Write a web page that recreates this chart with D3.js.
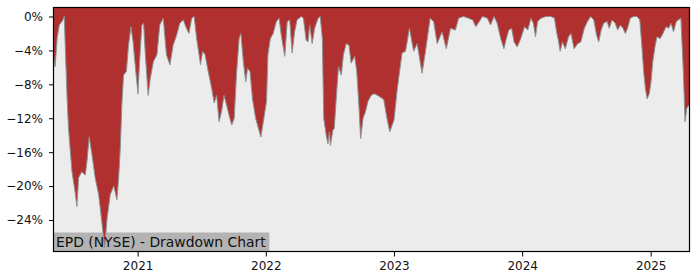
<!DOCTYPE html>
<html>
<head>
<meta charset="utf-8">
<script src="https://cdn.jsdelivr.net/npm/d3@7"></script>
<style>
  html, body { margin: 0; padding: 0; background: #ffffff; }
  svg { display: block; }
  text { font-family: "DejaVu Sans", sans-serif; }
</style>
</head>
<body>
<script>
const dates = [
"2020-05-05","2020-05-11","2020-05-17","2020-05-23","2020-06-01","2020-06-06","2020-06-14","2020-06-18","2020-06-28","2020-07-07",
"2020-07-12","2020-07-17","2020-07-26","2020-08-05","2020-08-10","2020-08-16","2020-08-24","2020-09-02","2020-09-12","2020-09-21",
"2020-09-29","2020-10-06","2020-10-15","2020-10-25","2020-11-03","2020-11-08","2020-11-13","2020-11-17","2020-11-22","2020-11-30",
"2020-12-06","2020-12-13","2020-12-19","2020-12-25","2021-01-02","2021-01-06","2021-01-13","2021-01-18","2021-01-23","2021-01-31",
"2021-02-06","2021-02-15","2021-02-25","2021-03-05","2021-03-15","2021-03-20","2021-03-24","2021-04-03","2021-04-12","2021-04-22",
"2021-05-01","2021-05-11","2021-05-20","2021-05-27","2021-06-04","2021-06-11","2021-06-18","2021-06-25","2021-06-29","2021-07-05",
"2021-07-12","2021-07-21","2021-07-31","2021-08-07","2021-08-14","2021-08-21","2021-08-28","2021-09-04","2021-09-11","2021-09-18",
"2021-09-26","2021-10-03","2021-10-10","2021-10-17","2021-10-22","2021-10-29","2021-11-05","2021-11-10","2021-11-17","2021-11-24",
"2021-12-03","2021-12-11","2021-12-18","2021-12-28","2022-01-03","2022-01-07","2022-01-14","2022-01-22","2022-01-31","2022-02-08",
"2022-02-14","2022-02-24","2022-03-03","2022-03-10","2022-03-17","2022-03-24","2022-03-31","2022-04-12","2022-04-18","2022-04-26",
"2022-05-01","2022-05-06","2022-05-13","2022-05-20","2022-05-30","2022-06-05","2022-06-11","2022-06-15","2022-06-22","2022-06-27",
"2022-07-01","2022-07-04","2022-07-11","2022-07-15","2022-07-20","2022-07-27","2022-08-04","2022-08-10","2022-08-18","2022-08-26",
"2022-09-01","2022-09-11","2022-09-17","2022-09-23","2022-09-28","2022-10-05","2022-10-12","2022-10-19","2022-10-28","2022-11-06",
"2022-11-19","2022-12-03","2022-12-11","2022-12-20","2023-01-01","2023-01-10","2023-01-15","2023-01-24","2023-02-03","2023-02-14",
"2023-02-26","2023-03-08","2023-03-22","2023-03-31","2023-04-14","2023-04-24","2023-05-04","2023-05-18","2023-05-30","2023-06-11",
"2023-06-25","2023-07-04","2023-07-18","2023-08-01","2023-08-13","2023-08-22","2023-09-01","2023-09-10","2023-09-24","2023-10-03",
"2023-10-13","2023-10-22","2023-11-01","2023-11-10","2023-11-17","2023-11-24","2023-12-02","2023-12-09","2023-12-18","2023-12-28",
"2024-01-08","2024-01-17","2024-01-26","2024-02-02","2024-02-08","2024-02-14","2024-02-24","2024-03-09","2024-03-23","2024-04-02",
"2024-04-08","2024-04-14","2024-04-18","2024-04-25","2024-05-03","2024-05-12","2024-05-19","2024-05-28","2024-06-07","2024-06-16",
"2024-06-26","2024-07-05","2024-07-14","2024-07-23","2024-07-31","2024-08-06","2024-08-13","2024-08-20","2024-08-30","2024-09-05",
"2024-09-13","2024-09-22","2024-09-29","2024-10-07","2024-10-14","2024-10-21","2024-10-27","2024-11-04","2024-11-14","2024-11-23",
"2024-12-01","2024-12-08","2024-12-12","2024-12-17","2024-12-22","2024-12-28","2025-01-02","2025-01-07","2025-01-14","2025-01-19",
"2025-01-28","2025-02-05","2025-02-14","2025-02-21","2025-02-28","2025-03-07","2025-03-15","2025-03-21","2025-03-28","2025-04-04",
"2025-04-09","2025-04-14","2025-04-21","2025-04-23"
];
const drawdown = [
-4.3,-5.9,-2.5,-1.0,-0.5,0,-9.5,-13.1,-18.3,-20.7,
-22.4,-19.0,-18.3,-18.7,-17.0,-14.2,-16.3,-19.0,-21.0,-24.2,
-27.3,-23.8,-21.0,-20.0,-21.6,-19.0,-15.2,-10.4,-6.9,-6.5,
-3.4,-1.2,-3.0,-5.7,-9.1,-5.7,-1.0,-0.8,-4.5,-9.3,
-7.3,-5.3,-4.5,-1.0,-0.2,-2.6,-4.5,-5.7,-3.4,-2.2,
-0.8,-0.4,-1.4,-2.0,-0.2,0,-2.6,-4.5,-5.7,-4.1,
-4.5,-6.5,-8.5,-10.2,-9.3,-12.4,-11.2,-9.3,-10.4,-11.6,
-12.8,-12.0,-6.5,-2.6,-2.0,-5.3,-7.7,-6.1,-6.5,-9.7,
-12.0,-13.2,-14.2,-11.6,-10.0,-4.5,-2.6,-2.0,-0.6,-0.2,
-2.2,-4.7,-0.6,-0.4,-4.3,-1.8,-0.4,0,-0.2,-2.8,
-3.0,-1.0,-3.2,-1.4,-0.2,0,-2.6,-12.0,-14.0,-15.0,
-13.6,-15.2,-13.4,-13.2,-10.0,-5.9,-6.9,-4.5,-3.2,-3.4,
-5.5,-4.7,-6.5,-10.4,-14.4,-12.0,-11.2,-10.0,-9.3,-9.1,
-9.4,-9.8,-11.8,-13.6,-12.2,-8.7,-7.1,-4.3,-4.1,-1.4,
-4.1,-3.2,-6.7,-4.3,-0.2,-0.6,-3.2,-1.8,-3.8,-1.4,
-1.6,-0.2,0,-0.2,-0.4,-1.2,-0.6,0,-0.2,-1.0,
0,-0.8,-2.6,-3.8,-2.6,-1.6,-1.4,-3.0,-3.6,-2.6,
-1.2,-1.6,-0.2,-0.8,-2.4,-0.6,-0.2,0,0,-0.2,
-1.8,-3.0,-4.1,-3.0,-3.8,-2.4,-2.0,-3.8,-3.2,-3.0,
-1.4,-0.6,0,-0.4,-2.2,-3.0,-1.6,-0.8,-0.6,-1.4,
-0.4,-0.8,-1.6,-1.0,-1.4,-2.0,-1.4,-0.2,0,0,
-0.4,-4.1,-6.5,-8.5,-9.7,-9.1,-7.7,-5.3,-3.4,-2.4,
-2.6,-2.0,-1.2,-1.4,-0.8,-1.8,-0.6,-0.4,-0.2,-6.5,
-12.4,-10.8,-10.4,-10.6
];
const yTicks = [0, -4, -8, -12, -16, -20, -24];
const xTickYears = ["2021", "2022", "2023", "2024", "2025"];
const title = "EPD (NYSE) - Drawdown Chart";

const W = 700, H = 280;
const margin = { left: 53, right: 10, top: 7, bottom: 28 };
const parse = d3.timeParse("%Y-%m-%d");
const data = dates.map((d, i) => ({ date: parse(d), v: drawdown[i] }));

const svg = d3.select("body").append("svg").attr("width", W).attr("height", H);

const x = d3.scaleTime()
  .domain([parse("2020-05-05"), parse("2025-04-23")])
  .range([margin.left, W - margin.right]);
const y = d3.scaleLinear()
  .domain([-27.77, 1.12])
  .range([H - margin.bottom, margin.top]);

// plot background
svg.append("rect")
  .attr("x", margin.left).attr("y", margin.top)
  .attr("width", W - margin.right - margin.left)
  .attr("height", H - margin.bottom - margin.top)
  .attr("fill", "#ececec");

svg.append("clipPath").attr("id", "clip").append("rect")
  .attr("x", margin.left).attr("y", margin.top)
  .attr("width", W - margin.right - margin.left)
  .attr("height", H - margin.bottom - margin.top);

// title box (under the area)
const boxG = svg.append("g");

const g = svg.append("g").attr("clip-path", "url(#clip)");

const area = d3.area()
  .x(d => x(d.date))
  .y0(y(y.domain()[1]))
  .y1(d => y(d.v));

g.append("path").datum(data)
  .attr("d", area)
  .attr("fill", "#b03030");

const line = d3.line().x(d => x(d.date)).y(d => y(d.v));
g.append("path").datum(data)
  .attr("d", line)
  .attr("fill", "none")
  .attr("stroke", "#909090")
  .attr("stroke-width", 1);

const tt = svg.append("text")
  .attr("x", margin.left + 3)
  .attr("y", H - margin.bottom - 5)
  .attr("font-size", 13.9)
  .attr("fill", "#111")
  .text(title);
const bb = tt.node().getBBox();
boxG.append("rect")
  .attr("x", margin.left)
  .attr("y", H - margin.bottom - 19.5)
  .attr("width", bb.width + 6)
  .attr("height", 19.5)
  .attr("fill", "#b3b3b3");

// axes
const yAxis = d3.axisLeft(y)
  .tickValues(yTicks)
  .tickSize(4)
  .tickPadding(6)
  .tickFormat(d => (d < 0 ? "\u2212" + Math.abs(d) : d) + "%");
const ya = svg.append("g").attr("transform", `translate(${margin.left},0)`).call(yAxis);
ya.select(".domain").remove();
ya.selectAll("text").attr("font-size", 12).attr("font-family", "DejaVu Sans, sans-serif").attr("fill", "#111");

const xAxis = d3.axisBottom(x)
  .tickValues(xTickYears.map(s => parse(s + "-01-01")))
  .tickSize(4.5)
  .tickPadding(5)
  .tickFormat(d3.timeFormat("%Y"));
const xa = svg.append("g").attr("transform", `translate(0,${H - margin.bottom})`).call(xAxis);
xa.select(".domain").remove();
xa.selectAll("text").attr("font-size", 12).attr("font-family", "DejaVu Sans, sans-serif").attr("fill", "#111");

// frame
svg.append("rect")
  .attr("x", margin.left + 0.5).attr("y", margin.top + 0.5)
  .attr("width", W - margin.right - margin.left - 1)
  .attr("height", H - margin.bottom - margin.top - 1)
  .attr("fill", "none")
  .attr("stroke", "#000")
  .attr("stroke-width", 1.2);
</script>
</body>
</html>
